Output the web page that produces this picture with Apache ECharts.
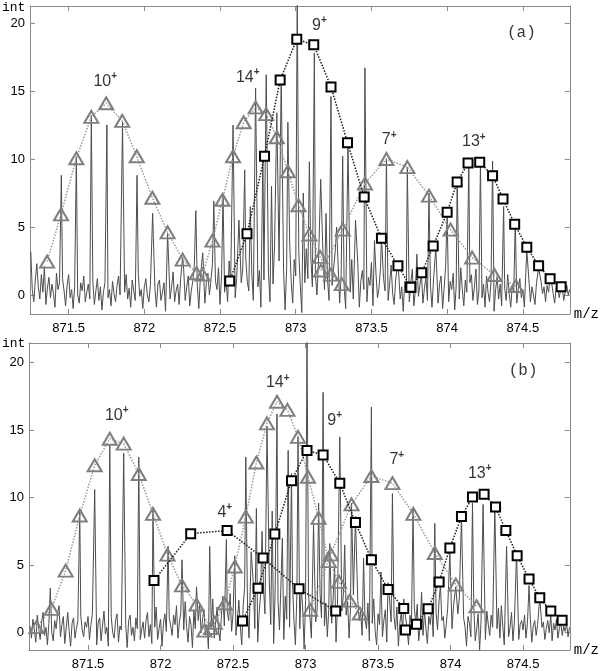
<!DOCTYPE html>
<html>
<head>
<meta charset="utf-8">
<script src="https://cdn.jsdelivr.net/npm/echarts@6/dist/echarts.min.js"></script>
<style>
  html, body { margin: 0; padding: 0; background: #fff; }
  #main { width: 600px; height: 671px; }
</style>
</head>
<body>
<div id="main"></div>
<script>
// ---- data (m/z, intensity) ----
var xTicks = [871.5, 872, 872.5, 873, 873.5, 874, 874.5];
var yTicks = [0, 5, 10, 15, 20];

// baseline noise, one value every 0.01 m/z
var noiseStartA = 871.25;
var noiseA = [
  3.2, 0.4, -0.5, 1.1, 2.3, 0.6, -0.3, 1.5, 0.2, 2.1, -0.7, 0.5, 1.3, -0.2, 0.8, 0.1, -0.9, 1.6, 0.4, 0.9,
  -0.4, 1.2, 0.3, -0.8, 0.7, 1.5, -0.2, 0.4, -1.0, 0.6, 1.1, 0.0, -0.6, 0.9, 0.3, 1.4, -0.5, 0.2, 0.8, -0.3,
  0.5, 1.0, -0.7, 0.3, 1.2, -0.4, 0.6, -1.1, 0.2, 0.9, 1.3, -0.2, 0.4, -0.8, 1.0, 0.1, -0.5, 0.7, 1.4, 0.0,
  -0.6, 0.8, 0.2, 1.5, -0.3, 0.5, -0.9, 1.1, 0.3, -0.4, 0.9, 1.6, -0.1, 0.4, -1.0, 0.6, 1.2, 0.0, -0.5, 0.7,
  1.3, -0.2, 0.5, -0.9, 0.8, 1.1, -0.4, 0.2, 0.9, -1.2, 0.4, 1.0, -0.3, 0.6, 1.7, -0.5, 0.3, 0.8, -0.7, 1.2,
  0.1, 1.9, -0.4, 0.6, 1.4, -0.8, 0.3, 1.0, 2.1, -0.2, 0.7, -1.0, 1.3, 0.4, 2.4, -0.6, 0.9, 1.6, 0.0, 1.1,
  2.3, -0.3, 1.0, 0.4, 2.0, -0.7, 1.4, 2.8, 0.2, 1.1, -0.5, 2.5, 0.8, 1.7, 3.2, -0.2, 1.2, 0.5, 2.6, 0.9,
  1.9, -0.6, 2.7, 1.0, 0.3, 3.0, 1.5, -0.4, 2.2, 3.5, 0.6, 1.8, -0.9, 2.9, 1.1, 0.2, 3.3, 1.6, -0.5, 2.4,
  0.8, 3.6, 1.3, -0.3, 2.5, 0.5, 3.1, 1.7, -1.1, 2.0, 0.4, 3.8, 1.0, -0.6, 2.6, 1.4, 0.1, 3.2, 0.7, -1.3,
  2.1, 0.9, 3.4, 1.2, -0.5, 2.7, 0.6, 3.9, 1.5, 0.0, 2.3, -0.8, 1.6, 3.0, 0.4, 2.5, 1.1, -0.4, 2.8, 0.7,
  1.9, 3.1, 0.3, 2.2, -0.6, 1.5, 2.9, 0.5, -1.0, 2.0, 1.2, 0.2, 2.6, -0.3, 1.4, 0.8, 2.3, -0.9, 1.0, 1.8,
  0.4, 2.1, -0.5, 1.3, 0.7, 2.4, -0.8, 0.9, 1.6, -0.2, 0.5, 2.0, -1.1, 1.2, 0.3, 1.8, -0.4, 0.8, 2.2, 0.1,
  -0.7, 1.1, 0.4, 1.7, -0.3, 0.6, -1.2, 1.0, 0.2, 1.5, -0.5, 0.9, 1.9, -0.8, 0.3, 1.2, -0.1, 0.7, 1.6, -0.6,
  0.5, 1.3, -0.4, 2.0, 0.6, -0.9, 1.1, 0.3, 1.8, -0.6, 0.8, 1.4, -1.0, 0.5, 2.1, 0.2, -0.5, 1.0, 0.4, 1.6,
  -1.1, 0.7, 1.3, -0.3, 2.0, 0.4, -0.8, 1.1, 0.2, -1.3, 0.9, 1.5, -0.4, 0.6, 1.9, -0.7, 0.3, 1.2, -0.2, 0.8,
  -0.9, 1.4, 0.2, -0.5, 1.0, 0.6, -1.2, 0.4, 1.3, -0.3, 0.8, -0.8, 1.1, 0.5, -0.4, 1.5, 0.1, -0.9, 0.7, 0.3,
  1.0, -0.6, 0.5, 1.2, -0.2, 0.4, -0.9, 0.8, 0.2, 1.1, -0.5, 0.6, 0.0, -0.7, 0.9, 0.3, -0.4, 1.0, 0.1, 0.6,
  -0.5, 0.7, 0.2, -0.3, 0.9, 0.1, -0.6, 0.5, 0.8, -0.2, 0.4, 0.6, -0.4, 0.3, 0.7, 0.0, 0.4
];
var peaksA = [
  [871.452, 8.8], [871.551, 10.2], [871.650, 13.2], [871.753, 12.5], [871.856, 12.7],
  [871.952, 8.8], [872.055, 6.0], [872.154, 4.5], [872.253, 2.8], [872.340, 6.2],
  [872.386, 3.1], [872.459, 6.9], [872.520, 7.3], [872.586, 12.5], [872.625, 5.5],
  [872.663, 9.2], [872.700, 6.5], [872.735, 15.2], [872.783, 10.4], [872.805, 16.2],
  [872.840, 8.0], [872.875, 13.4], [872.904, 16.1], [872.948, 12.7], [873.010, 22.5],
  [873.050, 7.5], [873.090, 9.8], [873.123, 17.8], [873.165, 8.5], [873.200, 6.0],
  [873.233, 14.6], [873.270, 5.0], [873.310, 10.2], [873.345, 11.0], [873.395, 5.5],
  [873.457, 16.7], [873.520, 4.0], [873.566, 4.3], [873.599, 10.05], [873.675, 2.5],
  [873.737, 9.4], [873.800, 3.0], [873.880, 7.5], [873.925, 3.5], [874.000, 6.0],
  [874.066, 8.5], [874.143, 9.7], [874.220, 9.9], [874.300, 9.85], [874.373, 6.5],
  [874.450, 5.5], [874.526, 3.3], [874.604, 2.0], [874.680, 1.4]
];

var noiseStartB = 871.10;
var noiseB = [
  0.5, -0.4, 1.0, 0.2, -0.7, 1.3, 0.3, -0.5, 0.8, 1.5, -0.2, 0.4, -0.9, 0.7, 1.1, 0.0, -0.6, 0.9, 0.3, 1.4,
  2.0, -0.3, 0.6, 1.2, -0.8, 0.4, 1.5, 0.1, -1.0, 0.7, 1.1, -0.4, 0.3, 0.9, -0.6, 1.3, 0.2, -0.3, 0.8, 0.4,
  1.2, -0.5, 0.6, 1.4, -0.2, 0.3, -0.9, 0.8, 1.1, -0.6, 0.5, 1.6, -0.1, 0.4, -1.0, 0.7, 1.2, 0.0, -0.4, 0.9,
  1.4, -0.7, 0.5, 0.2, 1.0, -0.3, 0.6, -1.1, 0.9, 1.3, -0.2, 0.4, -0.6, 1.1, 0.3, 1.7, -0.5, 0.2, 0.8, -0.4,
  0.9, 1.5, -0.3, 0.6, -0.8, 1.2, 0.4, 1.9, -0.5, 0.3, 1.0, -1.0, 0.7, 1.4, 0.1, -0.6, 1.1, 0.5, -0.2, 1.3,
  0.6, 2.0, -0.4, 0.8, 1.5, -0.9, 0.2, 2.3, 0.4, -0.7, 1.2, 0.6, -1.1, 1.6, 0.3, -0.5, 0.9, 2.1, 0.0, 1.0,
  1.7, -0.2, 0.6, -1.2, 1.1, 0.4, 2.5, -0.4, 0.8, 1.9, 0.2, -0.6, 1.3, 2.7, 0.5, -0.3, 1.6, 0.9, 2.9, 0.1,
  1.4, 3.1, -0.2, 1.0, 2.4, 0.5, -0.9, 2.0, 3.4, 0.8, 1.6, -0.4, 2.6, 1.2, 3.6, 0.3, 2.1, -0.7, 1.5, 2.8,
  0.9, 3.3, 1.4, -0.3, 2.5, 3.8, 0.6, 2.0, -0.8, 3.0, 1.3, 2.4, 0.2, 3.5, 1.8, -0.5, 2.7, 1.0, 3.2, 0.4,
  2.2, 3.7, 0.9, -0.9, 2.8, 1.5, 0.3, 3.3, 1.9, -1.2, 2.4, 0.6, 3.0, 1.2, -0.4, 2.6, 3.5, 0.8, 1.7, -0.6,
  2.9, 1.1, 3.6, 0.5, 2.2, -0.3, 1.7, 3.2, 0.7, 2.5, 1.4, -0.7, 2.0, 3.0, 0.2, 1.6, 2.7, -0.2, 1.3, 2.3,
  -0.4, 1.9, 0.6, 2.8, 1.2, -0.8, 2.4, 0.9, 1.6, -0.2, 3.0, 1.0, 0.3, 2.2, -0.6, 1.5, 0.7, 2.5, 0.1, -0.9,
  1.4, 0.6, 2.1, -0.3, 0.9, 1.7, -0.7, 0.4, 2.3, 0.8, -0.5, 1.2, 0.2, 1.9, -1.0, 0.7, 1.5, 0.0, -0.6, 1.1,
  0.3, -0.9, 1.3, 0.5, -0.4, 1.8, 0.7, 2.1, -0.6, 0.4, 1.0, -0.2, 1.6, 0.3, -0.8, 1.2, 0.6, 1.9, -0.3, 0.8,
  1.5, 0.2, 2.3, -0.7, 0.9, 1.2, -0.4, 0.6, 1.8, -1.1, 0.5, 0.3, 2.0, 0.8, -0.5, 1.4, 2.5, 0.1, -0.6, 1.1,
  0.4, -1.0, 1.2, 0.7, -0.3, 0.5, 1.9, -0.6, 0.3, 1.4, -1.3, 0.8, 0.2, 1.0, -0.5, 1.6, 0.6, -0.2, 1.3, 0.4,
  -0.7, 0.9, 0.3, 1.8, -0.4, 2.0, 0.5, -0.9, 0.7, 1.2, -0.3, 0.4, 1.5, -0.6, 0.8, 0.2, 1.1, -0.5, 0.6, 0.9,
  0.2, 1.3, -0.4, 0.7, 0.1, 1.0, -0.7, 0.5, 0.9, -0.2, 0.6, 1.2, -0.3, 0.4, 0.8, -0.5, 0.3, 0.9, 0.0, 0.5,
  -0.6, 0.7, 0.2, 1.0, -0.4, 0.3, 0.8, -0.2, 0.5, 0.1, 0.7, -0.3, 0.4
];
var peaksB = [
  [871.240, 3.3], [871.443, 9.1], [871.546, 10.6], [871.650, 13.9], [871.746, 13.3],
  [871.850, 13.0], [871.948, 9.2], [872.052, 6.4], [872.148, 5.4], [872.248, 3.4],
  [872.339, 6.4], [872.454, 6.9], [872.512, 5.7], [872.588, 13.0], [872.625, 6.0],
  [872.661, 9.2], [872.700, 7.5], [872.734, 15.3], [872.770, 9.0], [872.803, 16.2],
  [872.840, 7.0], [872.880, 13.5], [872.903, 11.8], [872.948, 14.5], [873.010, 22.0],
  [873.055, 8.0], [873.090, 9.6], [873.121, 17.8], [873.167, 6.6], [873.200, 5.0],
  [873.236, 14.5], [873.270, 6.5], [873.317, 9.6], [873.344, 8.6], [873.400, 5.5],
  [873.454, 16.7], [873.520, 4.5], [873.569, 3.7], [873.599, 10.3], [873.677, 2.5],
  [873.741, 9.1], [873.800, 3.0], [873.891, 8.1], [873.930, 3.5], [873.995, 5.9],
  [874.036, 3.4], [874.075, 8.6], [874.151, 9.6], [874.224, 9.5], [874.305, 9.3],
  [874.386, 6.4], [874.455, 6.0], [874.541, 3.5], [874.615, 2.6], [874.691, 1.3]
];

// isotope envelopes, panel (a)
var tri10A = [[871.358, 2.45], [871.45, 5.93], [871.551, 10.05], [871.65, 13.1], [871.748, 14.1], [871.854, 12.8], [871.95, 10.2], [872.053, 7.15], [872.154, 4.6], [872.253, 2.6], [872.345, 1.6]];
var tri14A = [[872.385, 1.5], [872.45, 4.0], [872.516, 7.0], [872.586, 10.2], [872.656, 12.7], [872.735, 13.8], [872.805, 13.3], [872.875, 11.6], [872.948, 9.1], [873.018, 6.6], [873.09, 4.45], [873.161, 2.8], [873.233, 1.5], [873.304, 0.8]];
var tri7A = [[873.167, 1.8], [873.31, 4.8], [873.457, 8.2], [873.599, 10.0], [873.737, 9.4], [873.88, 7.3], [874.023, 4.8], [874.165, 2.75], [874.312, 1.47], [874.454, 0.66]];
var sq9A = [[872.564, 1.03], [872.678, 4.5], [872.794, 10.2], [872.897, 15.8], [873.007, 18.8], [873.119, 18.4], [873.233, 15.3], [873.342, 11.2], [873.452, 7.2], [873.566, 4.17], [873.675, 2.15], [873.76, 0.57]];
var sq13A = [[873.76, 0.57], [873.832, 1.64], [873.908, 3.6], [874.0, 6.08], [874.066, 8.3], [874.138, 9.7], [874.215, 9.76], [874.3, 8.77], [874.369, 7.06], [874.446, 5.2], [874.526, 3.5], [874.604, 2.15], [874.68, 1.2], [874.753, 0.61]];

// isotope envelopes, panel (b)
var tri10B = [[871.144, 0.41], [871.248, 1.77], [871.346, 4.6], [871.443, 8.68], [871.546, 12.4], [871.65, 14.36], [871.746, 14.0], [871.85, 11.75], [871.948, 8.8], [872.048, 5.78], [872.148, 3.5], [872.248, 2.09], [872.348, 0.35]];
var tri14B = [[872.303, 0.15], [872.374, 0.74], [872.443, 2.16], [872.512, 4.9], [872.588, 8.6], [872.661, 12.6], [872.734, 15.5], [872.803, 17.1], [872.875, 16.5], [872.948, 14.5], [873.017, 11.55], [873.09, 8.5], [873.16, 5.3], [873.231, 3.76], [873.305, 2.38], [873.374, 1.42]];
var tri7B = [[873.031, 1.7], [873.174, 5.8], [873.317, 9.5], [873.454, 11.6], [873.599, 11.07], [873.743, 8.8], [873.891, 5.9], [874.036, 3.56], [874.179, 1.96]];
var sq4B = [[871.955, 3.86], [872.208, 7.33], [872.459, 7.57], [872.707, 5.53], [872.955, 3.25], [873.208, 1.6]];
var sq9B = [[872.565, 0.86], [872.672, 3.3], [872.788, 7.3], [872.903, 11.26], [873.01, 13.5], [873.121, 13.16], [873.236, 11.07], [873.344, 8.16], [873.454, 5.41], [873.569, 3.2], [873.677, 1.8]];
var sq13B = [[873.689, 0.2], [873.765, 0.63], [873.845, 1.77], [873.921, 3.76], [873.995, 6.27], [874.075, 8.6], [874.151, 10.04], [874.231, 10.26], [874.31, 9.3], [874.381, 7.57], [874.459, 5.7], [874.541, 3.98], [874.615, 2.58], [874.691, 1.6], [874.769, 0.93]];

// charge-state labels [text, m/z, int]
var chargeA = [['10', 871.742, 15.7], ['14', 872.683, 16.0], ['9', 873.156, 19.8], ['7', 873.617, 11.4], ['13', 874.176, 11.25]];
var chargeB = [['10', 871.698, 16.1], ['14', 872.808, 18.5], ['9', 873.201, 15.7], ['7', 873.629, 12.8], ['4', 872.443, 8.9], ['13', 874.201, 11.8]];
var tagA = ['(a)', 874.49, 19.3];
var tagB = ['(b)', 874.50, 19.4];

// ---- chart ----
function spectrum(start, noise, peaks) {
    var pts = [];
    noise.forEach(function (v, i) {
        var mz = start + i * 0.01;
        var near = peaks.some(function (p) { return Math.abs(p[0] - mz) < 0.006; });
        if (!near) pts.push([mz, v]);
    });
    return pts.concat(peaks).sort(function (a, b) { return a[0] - b[0]; });
}

var frame = '#8a8a8a';
function xAx(grid, min, max, bottom) {
    return {
        type: 'value', gridIndex: grid, min: min, max: max,
        position: bottom ? 'bottom' : 'top',
        name: bottom ? 'm/z' : '', nameLocation: 'end', nameGap: 4,
        nameTextStyle: { fontFamily: 'Liberation Mono', fontSize: 14, color: '#000' },
        axisLine: { show: true, onZero: false, lineStyle: { color: frame, width: 1 } },
        axisTick: { show: true, inside: true, length: 5, customValues: xTicks, lineStyle: { color: frame } },
        axisLabel: {
            show: bottom, customValues: xTicks, margin: 8,
            fontFamily: 'Liberation Sans', fontSize: 13, color: '#000',
            formatter: function (v) { return String(+(+v).toFixed(1)); }
        },
        splitLine: { show: false }
    };
}
function yAx(grid, min, max, left) {
    return {
        type: 'value', gridIndex: grid, min: min, max: max,
        position: left ? 'left' : 'right',
        axisLine: { show: true, onZero: false, lineStyle: { color: frame, width: 1 } },
        axisTick: { show: true, inside: true, length: 5, customValues: yTicks, lineStyle: { color: frame } },
        axisLabel: {
            show: left, customValues: yTicks, margin: 5,
            fontFamily: 'Liberation Sans', fontSize: 13, color: '#000'
        },
        splitLine: { show: false }
    };
}

function specSeries(ax, data) {
    return {
        type: 'line', xAxisIndex: ax, yAxisIndex: ax, data: data,
        symbol: 'none', clip: true, z: 1,
        lineStyle: { color: '#4d4d4d', width: 1 }
    };
}
function triSeries(ax, data) {
    return {
        type: 'line', xAxisIndex: ax, yAxisIndex: ax, data: data, z: 3,
        symbol: 'triangle', symbolSize: [14, 12], showAllSymbol: true,
        itemStyle: { color: 'rgba(255,255,255,0)', borderColor: '#7f7f7f', borderWidth: 2 },
        lineStyle: { color: '#9a9a9a', width: 1.5, type: 'dotted' }
    };
}
function sqSeries(ax, data) {
    return {
        type: 'line', xAxisIndex: ax, yAxisIndex: ax, data: data, z: 4,
        symbol: 'rect', symbolSize: 9, showAllSymbol: true,
        itemStyle: { color: '#fff', borderColor: '#000', borderWidth: 2 },
        lineStyle: { color: '#1a1a1a', width: 1.5, type: 'dotted' }
    };
}
function labelSeries(ax, labels, tag) {
    var data = labels.map(function (l) { return { value: [l[1], l[2]], name: l[0] }; });
    data.push({ value: [tag[1], tag[2]], name: tag[0], tag: true });
    return {
        type: 'scatter', xAxisIndex: ax, yAxisIndex: ax, data: data, z: 5,
        symbolSize: 1, itemStyle: { color: 'rgba(0,0,0,0)' },
        label: {
            show: true, position: 'inside', color: '#000',
            formatter: function (p) {
                return p.data.tag ? '{t|' + p.name + '}' : '{n|' + p.name + '}{s|+}';
            },
            rich: {
                n: { fontFamily: 'Liberation Sans', fontSize: 16, lineHeight: 20 },
                s: { fontFamily: 'Liberation Sans', fontSize: 10, fontWeight: 'bold', verticalAlign: 'top', lineHeight: 20 },
                t: { fontFamily: 'Liberation Mono', fontSize: 16 }
            }
        }
    };
}

var chart = echarts.init(document.getElementById('main'));
chart.setOption({
    animation: false,
    backgroundColor: '#fff',
    grid: [
        { left: 30, top: 6, width: 540, height: 308 },
        { left: 29, top: 343, width: 541, height: 308 }
    ],
    xAxis: [
        xAx(0, 871.245, 874.81, true), xAx(1, 871.093, 874.822, true),
        xAx(0, 871.245, 874.81, false), xAx(1, 871.093, 874.822, false)
    ],
    yAxis: [
        yAx(0, -1.4, 21.25, true), yAx(1, -1.28, 21.45, true),
        yAx(0, -1.4, 21.25, false), yAx(1, -1.28, 21.45, false)
    ],
    graphic: [
        { type: 'text', left: 2, top: 1, style: { text: 'int', font: '13px "Liberation Mono"', fill: '#000' } },
        { type: 'text', left: 2, top: 337, style: { text: 'int', font: '13px "Liberation Mono"', fill: '#000' } }
    ],
    series: [
        specSeries(0, spectrum(noiseStartA, noiseA, peaksA)),
        specSeries(1, spectrum(noiseStartB, noiseB, peaksB)),
        triSeries(0, tri10A), triSeries(0, tri14A), triSeries(0, tri7A),
        sqSeries(0, sq9A), sqSeries(0, sq13A),
        triSeries(1, tri10B), triSeries(1, tri14B), triSeries(1, tri7B),
        sqSeries(1, sq4B), sqSeries(1, sq9B), sqSeries(1, sq13B),
        labelSeries(0, chargeA, tagA),
        labelSeries(1, chargeB, tagB)
    ]
});
</script>
</body>
</html>
